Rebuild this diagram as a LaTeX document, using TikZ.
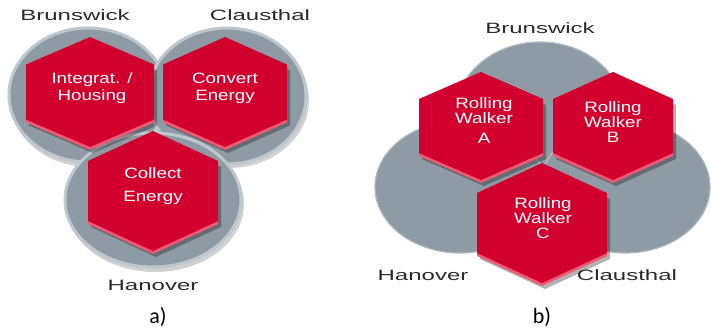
\documentclass[tikz,border=0pt]{standalone}
\usepackage{fontspec}
\setmainfont{Liberation Sans}
\newfontfamily\placefont[FakeStretch=1.6]{Liberation Sans}
\newfontfamily\hexfont[FakeStretch=1.25]{Liberation Sans}
\newfontfamily\panelfont{Carlito}
\usetikzlibrary{calc}
\definecolor{hexred}{HTML}{D2002E}
\definecolor{hexlipred}{HTML}{EE5A74}
\definecolor{platefill}{HTML}{8F9BA4}
\definecolor{platerim}{HTML}{BEC7CD}
\definecolor{labelgray}{HTML}{2A2A2A}
\tikzset{
  plate/.style={fill=platefill,draw=platerim,line width=3pt},
  flatplate/.style={fill=platefill,draw=platerim!70!platefill,line width=1.2pt},
  plateshade/.style={fill=black,opacity=0.18},
  hexshade/.style={fill=black,opacity=0.3},
  hexlip/.style={fill=hexlipred},
  hexface/.style={fill=hexred},
  hextext/.style={text=white,align=center,font=\hexfont\fontsize{15}{17}\selectfont},
  place/.style={text=labelgray,font=\placefont\fontsize{15}{17}\selectfont},
  panel/.style={text=black,font=\panelfont\fontsize{22}{24}\selectfont}
}
% hexagon plate: centre x, centre y, half width, half height
\newcommand{\hexplate}[4]{%
  \begin{scope}[shift={(#1,#2)}]
    \foreach \dx/\dy/\sty in {3/6/hexshade,0/3/hexlip,0/0/hexface}
      \fill[\sty] (\dx,{\dy-#4}) -- ({\dx+#3},{\dy-#4/2}) -- ({\dx+#3},{\dy+#4/2})
        -- (\dx,{\dy+#4}) -- ({\dx-#3},{\dy+#4/2}) -- ({\dx-#3},{\dy-#4/2}) -- cycle;
  \end{scope}}

\begin{document}
\begin{tikzpicture}[x=1pt,y=-1pt]
  \useasboundingbox (0,0) rectangle (711,329);
  % a) three sites
  \fill[plateshade] (90,99) ellipse (80 and 68);
  \draw[plate] (88,95) ellipse (79 and 67);
  \fill[plateshade] (229,100) ellipse (80 and 68);
  \draw[plate] (227,96) ellipse (79 and 68);
  \fill[plateshade] (155,204) ellipse (89 and 68);
  \draw[plate] (153,200) ellipse (88 and 67);
  \hexplate{90}{92}{64}{55}
  \hexplate{225}{92}{62}{55}
  \hexplate{153}{191}{65}{60}
  \node[hextext] (integ) at (92,88) {Integrat. /\\Housing};
  \node[hextext] (convert) at (225,88) {Convert\\Energy};
  \node[hextext] (collect) at (153,186) {Collect\\[6pt]Energy};
  \node[place] (brunsA) at (75,15) {Brunswick};
  \node[place] (clausA) at (260,15) {Clausthal};
  \node[place] (hanA) at (153,285) {Hanover};
  \node[panel] (panA) at (158,317) {a)};
  % b) rolling walkers
  \draw[flatplate] (540,115) ellipse (85 and 73);
  \draw[flatplate] (460,187) ellipse (85 and 66);
  \draw[flatplate] (625,187) ellipse (85 and 66);
  \hexplate{481}{126}{62}{54}
  \hexplate{613}{126}{60}{54}
  \hexplate{542}{223}{65}{60}
  \node[hextext,font=\hexfont\fontsize{15}{15}\selectfont] (walkA) at (484,121) {Rolling\\Walker\\[5pt]A};
  \node[hextext,font=\hexfont\fontsize{15}{15}\selectfont] (walkB) at (613,122) {Rolling\\Walker\\B};
  \node[hextext,font=\hexfont\fontsize{15}{15}\selectfont] (walkC) at (543,218) {Rolling\\Walker\\C};
  \node[place] (brunsB) at (540,28) {Brunswick};
  \node[place] (hanB) at (423,275) {Hanover};
  \node[place] (clausB) at (627,275) {Clausthal};
  \node[panel] (panB) at (542,317) {b)};
\end{tikzpicture}
\end{document}
